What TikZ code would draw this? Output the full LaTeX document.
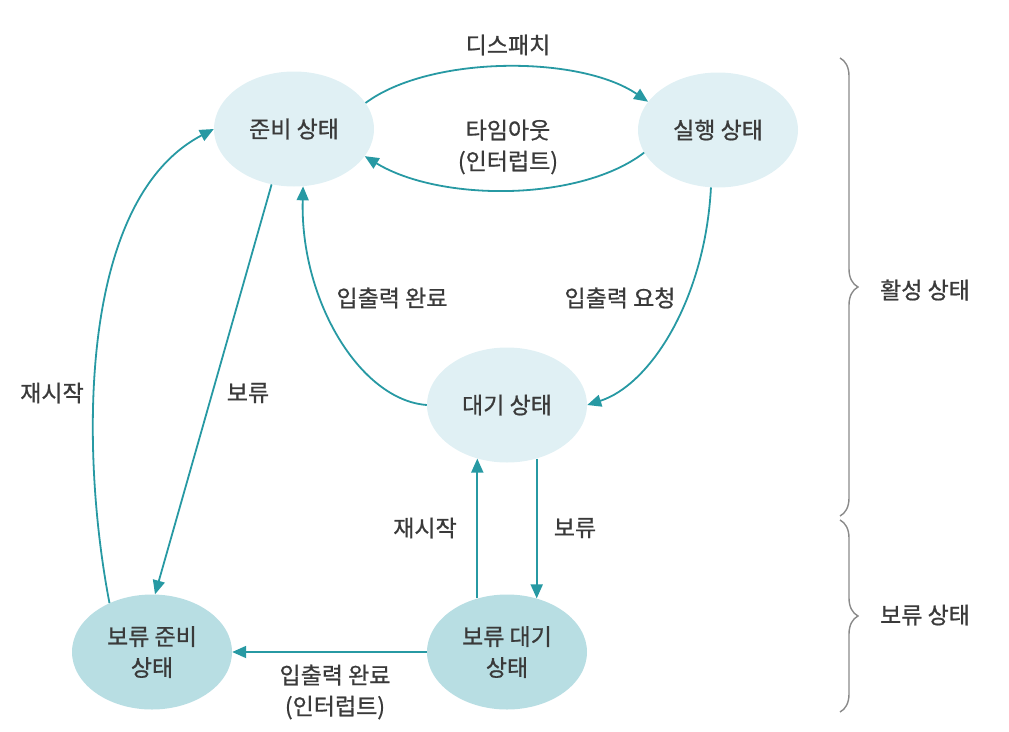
\documentclass[tikz,border=0pt]{standalone}
\usepackage{fontspec}
\setmainfont{Noto Sans CJK KR}[FakeBold=0.8]
\usetikzlibrary{shapes.geometric,arrows.meta,decorations.pathreplacing}
\definecolor{tealline}{HTML}{2799A3}
\definecolor{lightfill}{HTML}{E0F0F4}
\definecolor{darkfill}{HTML}{B8DEE3}
\definecolor{txt}{HTML}{3A3A3A}
\definecolor{bracegray}{HTML}{8A8A8A}
\begin{document}
\begin{tikzpicture}[x=1pt,y=1pt,
  every node/.style={font=\fontsize{23}{31}\selectfont, text=txt},
  state/.style={ellipse, inner sep=0pt, minimum width=160pt, minimum height=115pt, align=center},
  active/.style={state, fill=lightfill},
  held/.style={state, fill=darkfill},
  arr/.style={draw=tealline, line width=1.8pt, -{Triangle[length=14pt,width=12pt]}},
  lbl/.style={align=center},
  brc/.style={draw=bracegray, line width=1.4pt, decorate, decoration={brace, amplitude=18pt}}]

\useasboundingbox (0,0) rectangle (1009,-731);

% states
\node[active] (jun) at (294,-129) {준비 상태};
\node[active] (sil) at (718,-130) {실행 상태};
\node[active] (dae) at (507,-405) {대기 상태};
\node[held] (bj) at (152,-652) {보류 준비\\상태};
\node[held] (bd) at (507,-652) {보류 대기\\상태};

% connectors
\draw[arr] (jun.20) .. controls (430,-55) and (580,-55) .. (sil.158);
\draw[arr] (sil.197) .. controls (580,-202) and (440,-202) .. (jun.339);
\draw[arr] (sil.263) .. controls (705,-300) and (650,-385) .. (dae.0);
\draw[arr] (dae.180) .. controls (360,-400) and (300,-300) .. (jun.279);
\draw[arr] (jun.248) -- (bj.87);
\draw[arr] (bj.131) .. controls (80,-450) and (78,-200) .. (jun.180);
\draw[arr] (bd.119) -- (dae.241);
\draw[arr] (dae.299) -- (bd.61);
\draw[arr] (bd.180) -- (bj.0);

% labels
\node[lbl] (l1) at (508,-45) {디스패치};
\node[lbl] (l2) at (508,-147) {타임아웃\\(인터럽트)};
\node[lbl] (l3) at (620,-298) {입출력 요청};
\node[lbl] (l4) at (392,-298) {입출력 완료};
\node[lbl] (l5) at (248,-393) {보류};
\node[lbl] (l6) at (52,-393) {재시작};
\node[lbl] (l7) at (425,-528) {재시작};
\node[lbl] (l8) at (575,-528) {보류};
\node[lbl] (l9) at (335,-692) {입출력 완료\\(인터럽트)};

% braces
\draw[brc] (840,-58) -- (840,-516);
\draw[brc] (840,-520) -- (840,-712);
\node[lbl] (b1) at (925,-290) {활성 상태};
\node[lbl] (b2) at (925,-615) {보류 상태};
\end{tikzpicture}
\end{document}
